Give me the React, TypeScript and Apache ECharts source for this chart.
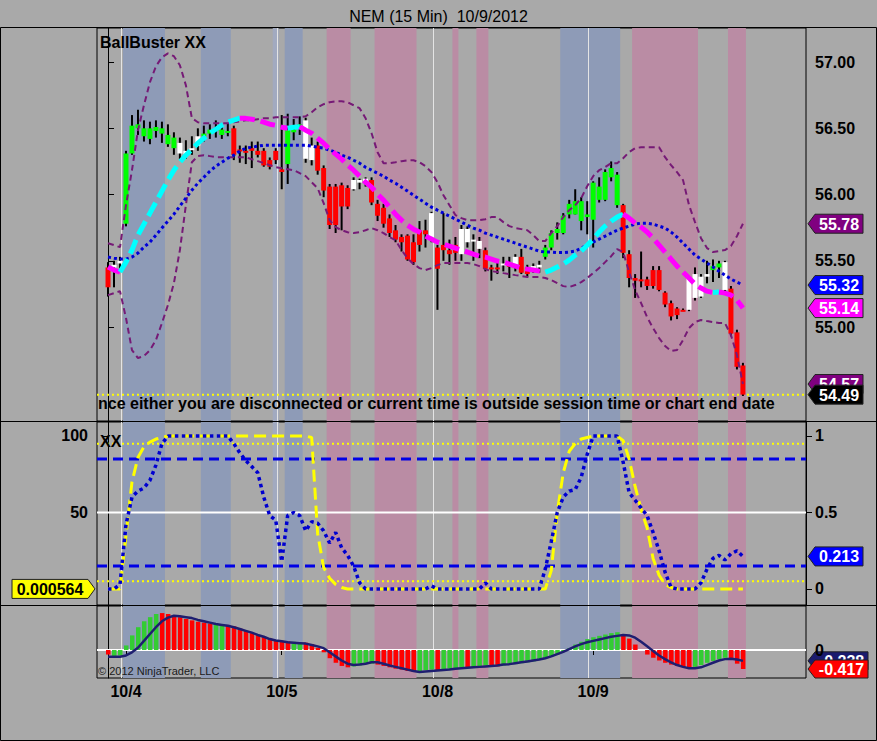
import React, { useEffect, useRef } from "react";
import * as echarts from "echarts";

// ---------- DATA (15-min bars, NEM, 10/3 close .. 10/9) ----------
const opens = [55.45,55.45,55.48,55.78,56.31,56.50,56.44,56.42,56.48,56.46,
56.38,56.35,56.31,56.30,56.34,56.37,56.44,56.46,56.48,56.45,
56.47,56.50,56.34,56.33,56.35,56.33,56.33,56.26,56.33,56.19,
56.23,56.47,56.50,56.27,56.26,56.37,56.20,56.06,56.06,56.07,
56.05,56.04,56.09,56.10,56.11,55.93,55.90,55.82,55.73,55.68,
55.69,55.64,55.73,55.73,55.67,55.60,55.62,55.58,55.62,55.55,
55.64,55.65,55.59,55.58,55.45,55.45,55.47,55.47,55.45,55.53,
55.45,55.43,55.45,55.53,55.60,55.71,55.71,55.85,55.85,55.80,
55.85,55.81,55.96,55.96,56.13,56.15,55.92,55.55,55.37,55.36,
55.36,55.43,55.43,55.26,55.18,55.14,55.13,55.13,55.22,55.23,
55.40,55.43,55.45,55.28,55.29,54.96,54.71];
const highs = [55.49,55.50,55.53,56.33,56.60,56.64,56.56,56.55,56.56,56.55,
56.53,56.47,56.43,56.41,56.44,56.50,56.52,56.53,56.56,56.53,
56.54,56.52,56.37,56.37,56.40,56.40,56.35,56.28,56.35,56.60,
56.61,56.57,56.59,56.58,56.43,56.40,56.22,56.08,56.08,56.09,
56.07,56.13,56.12,56.13,56.13,55.96,55.93,55.85,55.77,55.70,
55.70,55.70,55.80,55.81,55.87,55.62,55.86,55.66,55.68,55.77,
55.76,55.70,55.68,55.60,55.47,55.50,55.53,55.53,55.55,55.59,
55.47,55.48,55.50,55.62,55.73,55.79,55.86,55.96,56.04,55.98,
55.95,56.10,56.13,56.19,56.25,56.17,55.93,55.58,55.40,55.57,
55.38,55.46,55.46,55.27,55.20,55.15,55.14,55.38,55.45,55.40,
55.50,55.51,55.50,55.50,55.31,54.98,54.73];
const lows = [55.23,55.30,55.44,55.76,56.30,56.45,56.40,56.38,56.43,56.39,
56.36,56.30,56.27,56.27,56.30,56.33,56.40,56.42,56.43,56.42,
56.44,56.26,56.24,56.23,56.20,56.28,56.21,56.19,56.23,56.04,
56.08,56.41,56.45,56.24,56.22,56.15,55.98,55.74,55.71,55.73,
55.89,56.03,56.04,56.06,55.92,55.80,55.75,55.68,55.64,55.57,
55.50,55.47,55.57,55.60,55.64,55.13,55.50,55.47,55.50,55.50,
55.60,55.50,55.52,55.42,55.35,55.40,55.42,55.37,55.42,55.40,
55.38,55.41,55.41,55.51,55.58,55.66,55.70,55.82,55.85,55.73,
55.70,55.60,55.94,55.95,56.10,55.90,55.52,55.30,55.22,55.30,
55.28,55.29,55.27,55.15,55.05,55.06,55.12,55.12,55.20,55.22,
55.33,55.34,55.37,55.27,54.93,54.68,54.48];
const closes = [55.30,55.47,55.50,56.31,56.52,56.53,56.50,56.50,56.51,56.50,
56.45,56.43,56.39,56.33,56.35,56.44,56.46,56.49,56.50,56.49,
56.48,56.30,56.33,56.32,56.33,56.30,56.22,56.21,56.26,56.17,
56.49,56.49,56.53,56.56,56.37,56.18,56.03,55.77,55.77,55.91,
55.91,56.11,56.11,56.12,55.94,55.84,55.78,55.71,55.66,55.64,
55.51,55.49,55.62,55.70,55.86,55.44,55.58,55.55,55.56,55.74,
55.74,55.66,55.65,55.44,55.44,55.44,55.48,55.46,55.53,55.41,
55.40,55.46,55.47,55.60,55.71,55.74,55.84,55.93,55.95,55.95,
55.83,56.09,56.06,56.17,56.20,55.92,55.56,55.37,55.35,55.35,
55.31,55.31,55.28,55.17,55.08,55.09,55.12,55.37,55.40,55.38,
55.38,55.46,55.48,55.49,54.95,54.70,54.49];
// paint-bar colour per bar: r = red, g = green, w = white
const barColors = ("r" + "ww" + "ggggggggg" + "wwww" + "ggggg" + "rrrrrrrrr" + "ggg" + "ww" +
  "rrrrrr" + "www" + "rrrrrrrrrr" + "w" + "rrrr" + "wwww" + "rrr" + "w" + "r" + "w" + "rr" + "ww" +
  "ggggggggggggg" + "rrrrrrrrrrr" + "wwww" + "gg" + "w" + "rrr").split("");

const hma = [55.453,55.430,55.415,55.490,55.581,55.694,55.777,55.860,55.943,56.026,
56.109,56.184,56.244,56.297,56.342,56.388,56.425,56.463,56.493,56.523,
56.546,56.561,56.576,56.575,56.568,56.561,56.546,56.531,56.523,56.508,
56.500,56.508,56.512,56.486,56.463,56.425,56.388,56.342,56.305,56.267,
56.222,56.184,56.139,56.093,56.056,56.003,55.958,55.905,55.852,55.807,
55.769,55.739,55.717,55.686,55.664,55.641,55.626,55.611,55.596,55.581,
55.566,55.551,55.535,55.528,55.513,55.498,55.490,55.475,55.460,55.445,
55.437,55.430,55.422,55.415,55.430,55.453,55.475,55.505,55.543,55.573,
55.618,55.664,55.717,55.762,55.799,55.830,55.852,55.822,55.784,55.754,
55.717,55.671,55.618,55.566,55.513,55.460,55.415,55.370,55.324,55.294,
55.271,55.260,55.264,55.256,55.241,55.204,55.143];
const slowMa = [55.528,55.520,55.513,55.513,55.528,55.558,55.603,55.641,55.694,55.747,
55.799,55.852,55.913,55.973,56.033,56.086,56.131,56.176,56.214,56.244,
56.274,56.297,56.327,56.350,56.357,56.365,56.372,56.372,56.372,56.372,
56.372,56.372,56.372,56.372,56.365,56.357,56.350,56.335,56.320,56.297,
56.282,56.259,56.237,56.206,56.184,56.161,56.139,56.109,56.086,56.056,
56.026,55.995,55.965,55.935,55.905,55.882,55.860,55.837,55.815,55.792,
55.769,55.747,55.731,55.709,55.694,55.679,55.664,55.649,55.633,55.618,
55.603,55.588,55.573,55.566,55.566,55.562,55.562,55.566,55.573,55.596,
55.618,55.641,55.664,55.686,55.709,55.731,55.747,55.762,55.777,55.784,
55.784,55.777,55.762,55.747,55.717,55.679,55.633,55.588,55.543,55.513,
55.483,55.453,55.422,55.392,55.362,55.339,55.317];
const upperBand = [55.633,55.618,55.603,55.920,56.184,56.486,56.674,56.848,56.968,57.036,
57.066,57.044,56.976,56.825,56.576,56.546,56.538,56.538,56.538,56.538,
56.538,56.546,56.553,56.561,56.561,56.569,56.576,56.576,56.584,56.584,
56.584,56.584,56.584,56.591,56.621,56.659,56.682,56.697,56.704,56.704,
56.697,56.674,56.652,56.576,56.463,56.320,56.237,56.237,56.244,56.252,
56.259,56.259,56.244,56.214,56.169,56.093,55.995,55.920,55.845,55.822,
55.807,55.807,55.807,55.814,55.830,55.830,55.792,55.762,55.747,55.739,
55.731,55.694,55.649,55.649,55.709,55.762,55.830,55.882,55.920,55.973,
56.063,56.139,56.184,56.207,56.237,56.237,56.274,56.320,56.350,56.357,
56.357,56.357,56.357,56.282,56.222,56.169,56.109,55.920,55.792,55.671,
55.596,55.566,55.573,55.581,55.611,55.686,55.780];
const lowerBand = [55.241,55.256,55.271,55.068,54.826,54.766,54.781,54.826,54.902,55.030,
55.166,55.332,55.581,55.920,56.244,56.290,56.297,56.290,56.282,56.282,
56.282,56.282,56.282,56.282,56.267,56.252,56.237,56.222,56.207,56.199,
56.191,56.184,56.161,56.139,56.093,56.048,55.935,55.807,55.754,55.731,
55.716,55.709,55.716,55.731,55.747,55.731,55.709,55.679,55.656,55.581,
55.520,55.475,55.445,55.430,55.445,55.467,55.483,55.483,55.483,55.483,
55.483,55.475,55.460,55.437,55.422,55.415,55.407,55.400,55.392,55.385,
55.377,55.377,55.377,55.370,55.354,55.332,55.309,55.302,55.317,55.339,
55.370,55.407,55.445,55.490,55.535,55.588,55.566,55.415,55.279,55.181,
55.075,54.992,54.917,54.857,54.819,54.826,54.902,54.992,55.038,55.053,
55.045,55.038,55.030,55.030,54.940,54.789,54.570];

// XX oscillator (0..100 left scale, 0..1 right scale)
const stochFast = [0,0,3,42,60,64,66,71,81,95,
100,100,100,100,100,100,100,100,100,100,
100,95,89,84,80,76,60,48,45,18,
48,50,48,38,44,43,38,30,37,27,
22,15,4,0,0,0,0,0,0,0,
0,0,0,0,2,0,0,0,0,0,
0,0,0,4,0,0,0,0,0,0,
0,0,0,13,31,50,60,64,65,73,
88,100,100,100,100,100,83,63,58,53,
48,37,25,11,1,0,0,0,0,4,
13,20,22,19,23,25,21.3];
const stochSlow = [0,0,0,35,70,86,93,96,98,99,
100,100,100,100,100,100,100,100,100,100,
100,100,100,100,100,100,100,100,100,100,
100,100,100,100,99,36,14,7,3,1,
0,0,0,0,0,0,0,0,0,0,
0,0,0,0,0,0,0,0,0,0,
0,0,0,0,0,0,0,0,0,0,
0,0,0,0,12,50,76,90,95,98,
99,100,100,100,100,100,97,85,67,52,
40,20,9,3,1,0,0,0,0,0,
0,0,0,0,0,0,0.0564];
const oscMidLevel = [50];
const oscOuterLevels = [5, 95];
const oscInnerLevels = [15, 85];

// MACD-style histogram and signal
const macdHist = [-0.10,-0.13,-0.12,0.10,0.32,0.50,0.63,0.72,0.79,0.81,
0.79,0.76,0.72,0.68,0.65,0.62,0.60,0.58,0.57,0.57,
0.55,0.52,0.47,0.42,0.37,0.33,0.29,0.25,0.22,0.20,
0.19,0.18,0.17,0.16,0.13,0.05,-0.05,-0.18,-0.28,-0.35,
-0.38,-0.36,-0.34,-0.31,-0.30,-0.32,-0.35,-0.38,-0.41,-0.43,
-0.46,-0.48,-0.46,-0.44,-0.43,-0.45,-0.43,-0.41,-0.40,-0.38,
-0.39,-0.37,-0.35,-0.34,-0.36,-0.36,-0.34,-0.32,-0.31,-0.29,
-0.27,-0.25,-0.22,-0.18,-0.14,-0.10,-0.04,0.04,0.12,0.18,
0.24,0.28,0.31,0.34,0.37,0.39,0.35,0.25,0.12,0.00,
-0.10,-0.17,-0.23,-0.28,-0.32,-0.35,-0.37,-0.38,-0.37,-0.33,
-0.28,-0.24,-0.20,-0.17,-0.20,-0.30,-0.417];
const histColors = ("r" + "gggggggg" + "rrrrrrrrr" + "gg" + "rrrrrrrrrrr" + "gg" + "rrrrrrrr" +
  "gggg" + "rrrrrrr" + "ggg" + "r" + "gggg" + "r" + "ggg" + "rr" + "gggggggggggggggggggg" +
  "rrrrrrrrrrrr" + "gggggg" + "rrr").split("");
const macdSignal = [-0.15,-0.15,-0.15,-0.12,-0.05,0.05,0.20,0.35,0.50,0.63,
0.71,0.75,0.74,0.72,0.70,0.66,0.63,0.60,0.57,0.55,
0.53,0.50,0.46,0.42,0.38,0.33,0.29,0.24,0.21,0.19,
0.17,0.16,0.15,0.14,0.11,0.08,0.04,-0.05,-0.14,-0.23,
-0.30,-0.33,-0.32,-0.30,-0.27,-0.27,-0.30,-0.34,-0.37,-0.40,
-0.43,-0.46,-0.48,-0.47,-0.46,-0.45,-0.44,-0.43,-0.41,-0.40,
-0.39,-0.38,-0.37,-0.36,-0.35,-0.34,-0.32,-0.31,-0.29,-0.27,
-0.25,-0.23,-0.21,-0.18,-0.14,-0.09,-0.04,0.02,0.08,0.13,
0.17,0.20,0.23,0.26,0.29,0.31,0.33,0.32,0.27,0.18,
0.08,-0.02,-0.12,-0.20,-0.27,-0.33,-0.37,-0.40,-0.40,-0.38,
-0.33,-0.28,-0.23,-0.20,-0.19,-0.21,-0.238];

// axes / sessions
const priceTicks = [55, 55.5, 56, 56.5, 57];
const oscLeftTicks = [50, 100];
const oscRightTicks = [0, 50, 100];
const macdTicks = [0];
const dayStarts = [3, 29, 55, 81];
const dayLabels = ["10/4", "10/5", "10/8", "10/9"];
const dayBreaks = [2.2, 28.2, 54.2, 80.2];
// background shading: [first bar, last bar, kind 0=blue 1=pink 2=light]
const shadeBands = [[3, 9, 0], [16, 20, 0], [28, 28, 2], [30, 32, 0], [37, 40, 1], [45, 51, 1],
  [58, 58, 1], [62, 63, 1], [76, 85, 0], [88, 98, 1], [104, 106, 1]];

// ---------- STYLE ----------
const FONT = "Arial, 'Liberation Sans', sans-serif";
const BG = "#A9A9A9";
const BAND_FILL = ["#8E9BB7", "#BA8CA4", "#A2AAC0"];
const CANDLE_FILL: Record<string, string> = { r: "#FF0000", g: "#00FF00", w: "#FFFFFF" };
const HIST_FILL: Record<string, string> = { r: "#FF0000", g: "#33CC33" };
const X_MIN = -1.84, X_MAX = 116.53;
const GRIDS = [
  { top: 28, height: 393 },
  { top: 422, height: 183 },
  { top: 606, height: 72 },
];

function bandSeries(xi: number, yi: number) {
  return {
    type: "custom", xAxisIndex: xi, yAxisIndex: yi, silent: true, z: 0, clip: false,
    data: shadeBands.map((b) => [b[0], b[1], b[2]]),
    renderItem: (params: any, api: any) => {
      const cs = params.coordSys;
      const a = api.coord([api.value(0) - 0.5, 0])[0];
      const b = api.coord([api.value(1) + 0.5, 0])[0];
      return { type: "rect", shape: { x: a, y: cs.y, width: b - a, height: cs.height },
        style: { fill: BAND_FILL[api.value(2)] } };
    },
  };
}
function breakSeries(xi: number, yi: number) {
  return {
    type: "custom", xAxisIndex: xi, yAxisIndex: yi, silent: true, z: 1, clip: false,
    data: dayBreaks.map((v) => [v, 0]),
    renderItem: (params: any, api: any) => {
      const cs = params.coordSys;
      const x = Math.round(api.coord([api.value(0), 0])[0]) + 0.5;
      return { type: "line", shape: { x1: x, y1: cs.y, x2: x, y2: cs.y + cs.height },
        style: { stroke: "#E4E4E4", lineWidth: 1 } };
    },
  };
}
const LEVEL_STYLES = [
  { stroke: "#FFFFFF", lineWidth: 2 },
  { stroke: "#FFFF00", lineWidth: 2, lineDash: [2, 3] },
  { stroke: "#0000E6", lineWidth: 3, lineDash: [10, 6] },
];
function levelSeries(xi: number, yi: number, levels: number[][]) {
  return {
    type: "custom", xAxisIndex: xi, yAxisIndex: yi, silent: true, z: 1, clip: false,
    data: levels.map((l) => [X_MIN, l[0], l[1]]),
    encode: { x: 0, y: 1 },
    renderItem: (params: any, api: any) => {
      const cs = params.coordSys;
      const y = api.coord([0, api.value(1)])[1];
      return { type: "line", shape: { x1: cs.x, y1: y, x2: cs.x + cs.width, y2: y },
        style: { ...LEVEL_STYLES[api.value(2)], fill: null } };
    },
  };
}

function buildOption(): any {
  const n = closes.length;
  const candleData = closes.map((c, i) => [i, opens[i], c, lows[i], highs[i], ["r", "g", "w"].indexOf(barColors[i])]);
  const histData = macdHist.map((v, i) => [i, v, histColors[i] === "g" ? 1 : 0]);

  // split the HMA into rising (cyan) / falling (magenta) runs
  const runs: { rising: boolean; pts: number[][] }[] = [];
  for (let i = 1; i < n; i++) {
    const rising = hma[i] >= hma[i - 1];
    const last = runs[runs.length - 1];
    if (last && last.rising === rising) last.pts.push([i, hma[i]]);
    else runs.push({ rising, pts: [[i - 1, hma[i - 1]], [i, hma[i]]] });
  }
  const line = (data: number[][], color: string, width: number, dash: any, z: number, xi = 0, yi = 0) => ({
    type: "line", xAxisIndex: xi, yAxisIndex: yi, data, showSymbol: false, silent: true, z,
    lineStyle: { color, width, type: dash, cap: "butt" },
  });
  const idx = (arr: number[]) => arr.map((v, i) => [i, v]);

  const xAxis = [0, 1, 2].map((g) => ({
    type: "value", gridIndex: g, min: X_MIN, max: X_MAX, show: g === 2,
    axisLine: { show: false }, splitLine: { show: false },
    axisTick: { show: g === 2, customValues: dayStarts, length: 5, lineStyle: { color: "#000" } },
    axisLabel: {
      show: g === 2, customValues: dayStarts, margin: 5,
      formatter: (v: number) => dayLabels[dayStarts.indexOf(Math.round(v))] || "",
      fontSize: 16, fontWeight: "bold", color: "#000", fontFamily: FONT,
    },
  }));
  const yBase = (g: number, pos: string, min: number, max: number, ticks: number[], fmt: (v: number) => string) => ({
    type: "value", gridIndex: g, position: pos, min, max, splitLine: { show: false },
    axisLine: { show: true, lineStyle: { color: "#000", width: 1 } },
    axisTick: { show: true, customValues: ticks, length: 6, lineStyle: { color: "#000" } },
    axisLabel: { customValues: ticks, formatter: fmt, margin: 9, fontSize: 16, fontWeight: "bold", color: "#000", fontFamily: FONT },
  });
  const yAxis = [
    yBase(0, "right", 54.291, 57.257, priceTicks, (v) => v.toFixed(2)),
    yBase(1, "left", -10.46, 109.15, oscLeftTicks, (v) => String(Math.round(v))),
    yBase(1, "right", -10.46, 109.15, oscRightTicks, (v) => String(v / 100)),
    yBase(2, "right", -0.614, 0.965, macdTicks, (v) => String(Math.round(v))),
  ];

  const series: any[] = [
    bandSeries(0, 0), bandSeries(1, 1), bandSeries(2, 3),
    breakSeries(0, 0), breakSeries(1, 1), breakSeries(2, 3),
    levelSeries(0, 0, [[closes[n - 1], 1]]),
    levelSeries(1, 1, [[oscMidLevel[0], 0], [oscOuterLevels[0], 1], [oscOuterLevels[1], 1], [oscInnerLevels[0], 2], [oscInnerLevels[1], 2]]),
    levelSeries(2, 3, [[0, 0]]),
    {
      type: "custom", xAxisIndex: 0, yAxisIndex: 0, silent: true, z: 2, data: candleData,
      encode: { x: 0, y: [1, 2, 3, 4] },
      renderItem: (params: any, api: any) => {
        const i = api.value(0);
        const o = api.coord([i, api.value(1)]);
        const c = api.coord([i, api.value(2)]);
        const l = api.coord([i, api.value(3)]);
        const h = api.coord([i, api.value(4)]);
        const top = Math.min(o[1], c[1]);
        const ht = Math.max(Math.abs(o[1] - c[1]), 2);
        return {
          type: "group", children: [
            { type: "line", shape: { x1: o[0], y1: h[1], x2: o[0], y2: l[1] }, style: { stroke: "#000", lineWidth: 2 } },
            { type: "rect", shape: { x: o[0] - 2.5, y: top, width: 5, height: ht }, style: { fill: CANDLE_FILL[["r", "g", "w"][api.value(5)]] } },
          ],
        };
      },
    },
    line(idx(upperBand), "#761A76", 2, [6, 4], 3),
    line(idx(lowerBand), "#761A76", 2, [6, 4], 3),
    line(idx(slowMa), "#0000D8", 3, [3, 3], 3),
    ...runs.map((r) => line(r.pts, r.rising ? "#00FFFF" : "#FF00FF", 5, [15, 6], 4)),
    line(idx(stochSlow), "#FFFF00", 3, [12, 6], 3, 1, 1),
    line(idx(stochFast), "#0000D0", 3.5, [3.5, 3.5], 4, 1, 1),
    {
      type: "custom", xAxisIndex: 2, yAxisIndex: 3, silent: true, z: 2, data: histData,
      encode: { x: 0, y: 1 },
      renderItem: (params: any, api: any) => {
        const i = api.value(0);
        const p0 = api.coord([i, 0]);
        const p1 = api.coord([i, api.value(1)]);
        return { type: "rect", shape: { x: p0[0] - 2, y: Math.min(p0[1], p1[1]), width: 4.5, height: Math.abs(p1[1] - p0[1]) },
          style: { fill: HIST_FILL[api.value(2) === 1 ? "g" : "r"] } };
      },
    },
    line(idx(macdSignal), "#1E1E70", 2.5, "solid", 4, 2, 3),
  ];

  return {
    animation: false,
    backgroundColor: BG,
    title: { text: "NEM (15 Min)  10/9/2012", left: "center", top: 3,
      textStyle: { fontSize: 16, fontWeight: "normal", color: "#000", fontFamily: FONT } },
    grid: GRIDS.map((g) => ({ left: 97, width: 709, top: g.top, height: g.height, show: true,
      backgroundColor: "transparent", borderColor: "#000", borderWidth: 1 })),
    xAxis, yAxis, series,
  };
}

function buildGraphics(chart: any) {
  const py = (axis: number, v: number) => chart.convertToPixel({ yAxisIndex: axis }, v) as number;
  const last = (a: number[]) => a[a.length - 1];
  const txt = (x: number, y: number, text: string, font: string, fill = "#000", align = "left") => ({
    type: "text", x, y, z: 50, silent: true,
    style: { text, font, fill, align, verticalAlign: "middle" },
  });
  const rightTag = (y: number, text: string, fill: string, color: string, w = 55, h = 19) => {
    const x0 = 808;
    return {
      type: "group", z: 100, silent: true, children: [
        { type: "polygon", shape: { points: [[x0, y], [x0 + 7, y - h / 2], [x0 + w, y - h / 2], [x0 + w, y + h / 2], [x0 + 7, y + h / 2]] },
          style: { fill, stroke: "#222", lineWidth: 1 } },
        { type: "text", x: x0 + 7 + (w - 7) / 2, y: y + 0.5, style: { text, font: `bold 16px ${FONT}`, fill: color, align: "center", verticalAlign: "middle" } },
      ],
    };
  };
  const leftTag = (y: number, text: string, fill: string, color: string) => {
    const h = 19;
    return {
      type: "group", z: 100, silent: true, children: [
        { type: "polygon", shape: { points: [[12, y - h / 2], [88, y - h / 2], [95, y], [88, y + h / 2], [12, y + h / 2]] },
          style: { fill, stroke: "#222", lineWidth: 1 } },
        { type: "text", x: 50, y: y + 0.5, style: { text, font: `bold 16px ${FONT}`, fill: color, align: "center", verticalAlign: "middle" } },
      ],
    };
  };
  const hline = (y: number) => ({ type: "line", z: 60, silent: true, shape: { x1: 0, y1: y, x2: 877, y2: y }, style: { stroke: "#000", lineWidth: 1 } });

  return [
    { type: "rect", z: 60, silent: true, shape: { x: 0.5, y: 27.5, width: 876, height: 713 }, style: { fill: null, stroke: "#000", lineWidth: 1 } },
    hline(421.5), hline(605.5),
    txt(100, 42, "BallBuster XX", `bold 16px ${FONT}`),
    txt(100, 441, "XX", `bold 16px ${FONT}`),
    txt(98, 403, "nce either you are disconnected or current time is outside session time or chart end date", `bold 16px ${FONT}`),
    txt(98, 671, "\u00A9 2012 NinjaTrader, LLC", `11px ${FONT}`, "#1A1A1A"),
    rightTag(py(0, last(upperBand)), last(upperBand).toFixed(2), "#800080", "#FFFFFF"),
    rightTag(py(0, last(slowMa)), last(slowMa).toFixed(2), "#0000FF", "#FFFFFF"),
    rightTag(py(0, last(hma)), last(hma).toFixed(2), "#FF00FF", "#FFFFFF"),
    rightTag(py(0, last(lowerBand)), last(lowerBand).toFixed(2), "#800080", "#FFFFFF"),
    rightTag(py(0, last(closes)), last(closes).toFixed(2), "#000000", "#FFFFFF"),
    rightTag(py(2, last(stochFast)), (last(stochFast) / 100).toFixed(3), "#0000FF", "#FFFFFF"),
    leftTag(py(1, last(stochSlow)), String(Number((last(stochSlow) / 100).toPrecision(3))), "#FFFF00", "#000000"),
    rightTag(py(3, last(macdSignal)), last(macdSignal).toFixed(3), "#1B1B6E", "#FFFFFF", 60, 18),
    rightTag(py(3, last(macdHist)), last(macdHist).toFixed(3), "#FF0000", "#FFFFFF", 60, 18),
  ];
}

export default function App() {
  const ref = useRef<HTMLDivElement>(null);
  useEffect(() => {
    const chart = echarts.init(ref.current!, null, { renderer: "svg" });
    chart.setOption(buildOption());
    chart.setOption({ graphic: buildGraphics(chart) });
    return () => chart.dispose();
  }, []);
  return <div ref={ref} style={{ position: "fixed", left: 0, top: 0, width: 877, height: 741 }} />;
}
